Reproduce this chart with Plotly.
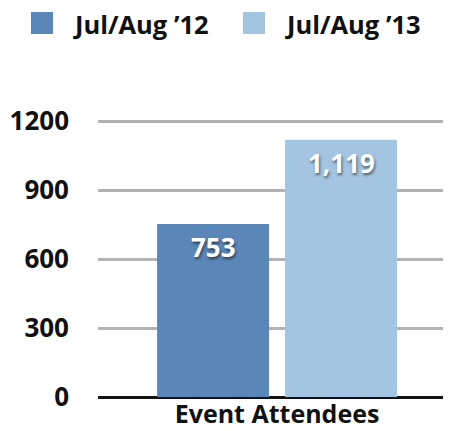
import plotly.graph_objects as go

categories = ["Event Attendees"]
series_names = ["Jul/Aug ’12", "Jul/Aug ’13"]
series_values = [[753], [1119]]
series_labels = [["753"], ["1,119"]]
colors = ["#5b87b8", "#a4c5e1"]
y_ticks = [0, 300, 600, 900, 1200]

FONT = "Open Sans"
# the page body adds an 8px margin, so the figure is drawn 8px smaller
OFF = 8
W, H = 452 - OFF, 431 - OFF
L, R, T, B = 98 - OFF, 9, 120 - OFF, 34
pw, ph = W - L - R, H - T - B

fig = go.Figure()
for name, vals, col in zip(series_names, series_values, colors):
    fig.add_bar(x=categories, y=vals, name=name, marker_color=col,
                marker_line_width=0, showlegend=False)

# value labels inside bars (near top)
shifts = [-64, 64]
for vals, labs, xs in zip(series_values, series_labels, shifts):
    for c, v, t in zip(categories, vals, labs):
        fig.add_annotation(x=c, y=v, text=t, showarrow=False, xref="x", yref="y",
                           xshift=xs, yshift=-3, yanchor="top",
                           font=dict(family=FONT, size=26, color="white", weight=700,
                                     shadow="1px 2px 3px rgba(0,0,0,0.55)"))

# custom legend (positions in page pixels)
leg_x = [31, 243]
for name, col, lx in zip(series_names, colors, leg_x):
    fx = lx - OFF
    fig.add_shape(type="rect", xref="paper", yref="paper",
                  x0=(fx - L) / pw, x1=(fx + 22 - L) / pw,
                  y0=(H - B - (34 - OFF)) / ph, y1=(H - B - (12 - OFF)) / ph,
                  fillcolor=col, line_width=0)
    fig.add_annotation(xref="paper", yref="paper", x=(fx + 40 - L) / pw,
                       y=(H - B - (24 - OFF)) / ph, xanchor="left", yanchor="middle",
                       text=name, showarrow=False,
                       font=dict(family=FONT, size=25.5, color="#111", weight=700))

fig.update_layout(
    width=W, height=H, margin=dict(l=L, r=R, t=T, b=B),
    paper_bgcolor="white", plot_bgcolor="white",
    barmode="group", bargap=0.258, bargroupgap=0.125,
    showlegend=False,
    font=dict(family=FONT, color="#111"),
)
fig.update_xaxes(range=[-0.519, 0.481], showgrid=False, showline=False,
                 automargin=False,
                 tickfont=dict(family=FONT, size=25, color="#111", weight=700),
                 ticks="", fixedrange=True)
fig.update_yaxes(range=[0, 1205], tickvals=y_ticks, ticktext=[str(v) for v in y_ticks],
                 automargin=False,
                 showgrid=True, gridcolor="#b3b3b3", gridwidth=2.5,
                 zeroline=True, zerolinecolor="#111", zerolinewidth=2.5,
                 tickfont=dict(family=FONT, size=26, color="#111", weight=700),
                 ticks="", ticklabelstandoff=28, showline=False)

fig.write_html("out.html")
